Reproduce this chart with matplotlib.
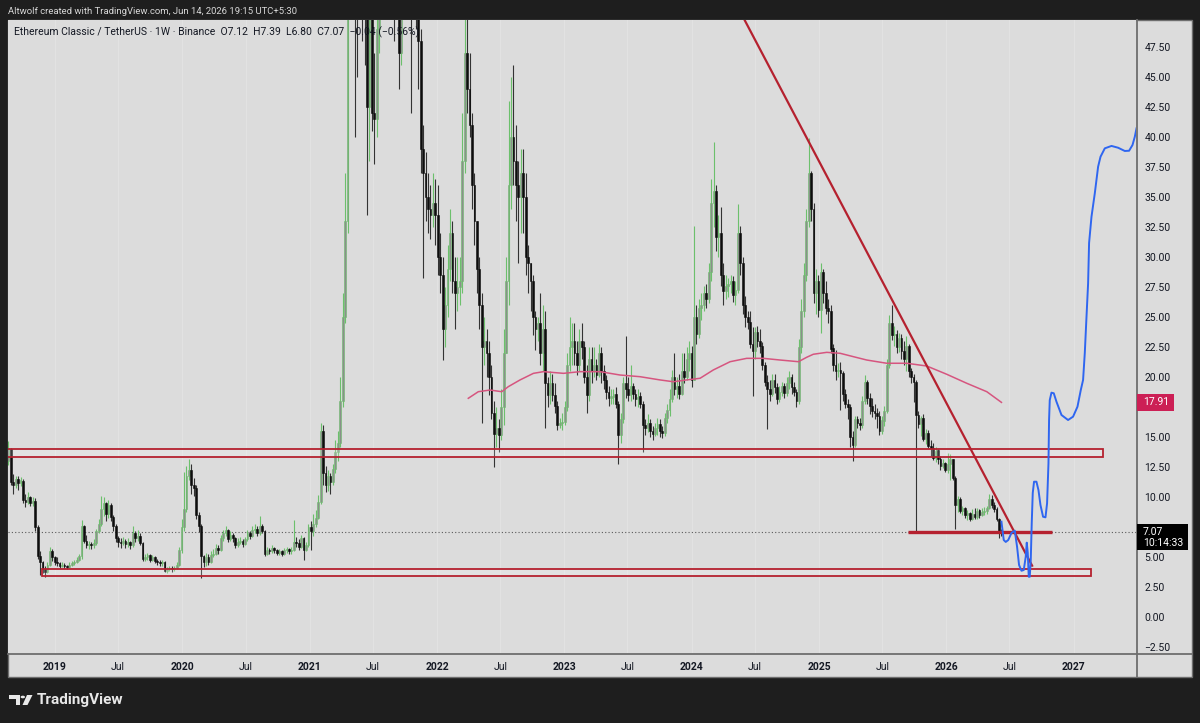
import numpy as np
import pandas as pd
import matplotlib
matplotlib.use('Agg')
import matplotlib.pyplot as plt
import matplotlib.dates as mdates
import matplotlib.transforms as mtransforms
from matplotlib.patches import Rectangle, Polygon, Circle
from matplotlib.lines import Line2D
from matplotlib.ticker import FuncFormatter

plt.rcParams['font.family'] = ['Roboto', 'DejaVu Sans']

# weekly ETC/USDT candles (open = previous close)
first_open = 13.0
first_week = '2018-08-20'

close_2018 = [14.0, 11.3, 11.0, 11.5, 11.2, 11.4, 9.8, 9.6, 10.0, 9.5, 9.7, 7.5, 5.1, 4.6, 4.0, 3.8, 4.4, 5.5, 5.0, 4.6]
high_2018 = [14.7, 14.1, 11.9, 11.8, 11.8, 11.7, 11.5, 10.3, 10.4, 10.1, 10.0, 9.9, 7.7, 5.5, 4.7, 4.3, 4.6, 5.9, 5.7, 5.1]
low_2018 = [12.7, 11.0, 10.3, 10.8, 10.6, 10.9, 9.5, 9.2, 9.4, 9.3, 9.3, 7.2, 4.9, 3.5, 3.7, 3.4, 3.7, 4.3, 4.7, 4.4]

close_2019 = [4.5, 4.3, 4.4, 4.3, 4.2, 4.4, 4.5, 4.6, 4.8, 5.1,
              7.6, 6.4, 6.0, 6.1, 6.0, 6.2, 7.2, 7.8, 9.0, 9.5,
              8.6, 9.4, 8.4, 7.6, 6.6, 6.3, 6.2, 6.4, 6.1, 6.3,
              6.0, 7.0, 6.6, 6.8, 6.2, 4.9, 5.0, 5.2, 4.8, 5.0,
              4.7, 4.6, 4.5, 4.6, 3.9, 4.0, 4.1, 4.0, 4.1, 4.4,
              5.6, 7.5]
high_2019 = [5.0, 4.6, 4.6, 4.5, 4.4, 4.6, 4.7, 4.8, 5.0, 5.3,
             8.1, 7.7, 6.9, 6.4, 6.3, 6.5, 7.4, 8.2, 10.1, 10.0,
             9.6, 9.8, 9.5, 8.5, 7.8, 6.8, 6.6, 6.7, 6.5, 6.6,
             6.4, 7.6, 7.2, 7.3, 7.0, 6.3, 5.3, 5.4, 5.3, 5.2,
             5.1, 4.9, 4.8, 4.8, 4.7, 4.2, 4.3, 4.3, 4.3, 4.6,
             5.9, 8.2]
low_2019 = [4.3, 4.1, 4.2, 4.1, 4.0, 4.1, 4.3, 4.4, 4.5, 4.7,
            4.9, 6.2, 5.8, 5.7, 5.7, 5.8, 6.0, 7.0, 7.6, 8.4,
            8.0, 8.3, 8.0, 7.2, 6.3, 5.9, 5.8, 6.0, 5.8, 5.9,
            5.7, 5.9, 6.3, 6.4, 6.0, 4.7, 4.7, 4.8, 4.6, 4.7,
            4.5, 4.4, 4.3, 4.3, 3.8, 3.7, 3.9, 3.8, 3.9, 4.0,
            4.3, 5.4]

close_2020 = [9.0, 11.8, 12.3, 11.0, 10.8, 8.5, 7.6, 5.1, 4.6, 5.0,
              4.6, 5.2, 5.3, 5.8, 5.6, 6.6, 7.0, 7.3, 6.5, 6.9,
              6.6, 6.0, 6.3, 6.4, 6.1, 6.5, 7.0, 6.8, 7.3, 7.4,
              7.0, 7.6, 7.2, 5.3, 5.6, 5.5, 5.8, 5.6, 5.4, 5.5,
              5.3, 5.6, 5.7, 5.5, 5.6, 6.3, 6.2, 5.9, 6.6, 5.6,
              6.0, 7.5]
high_2020 = [12.1, 12.6, 13.2, 12.8, 11.6, 11.0, 8.8, 7.8, 5.2, 5.4,
             5.3, 5.5, 5.7, 6.1, 6.0, 6.9, 7.3, 7.6, 7.4, 7.2,
             7.0, 6.7, 6.6, 6.7, 6.5, 6.7, 7.3, 7.2, 7.6, 7.8,
             7.6, 8.4, 7.8, 7.3, 5.9, 5.8, 6.0, 5.9, 5.7, 5.7,
             5.6, 5.8, 5.9, 5.8, 5.9, 8.1, 6.7, 6.5, 6.9, 6.7,
             6.3, 7.8]
low_2020 = [7.2, 8.8, 11.4, 10.3, 10.1, 8.2, 7.1, 3.3, 4.2, 4.3,
            4.4, 4.5, 5.0, 5.2, 5.3, 5.5, 6.4, 6.8, 6.3, 6.4,
            6.3, 5.8, 5.9, 6.1, 5.9, 6.0, 6.4, 6.5, 6.7, 7.0,
            6.8, 6.9, 7.0, 5.1, 5.2, 5.3, 5.4, 5.4, 5.2, 5.2,
            5.1, 5.2, 5.4, 5.3, 5.3, 5.5, 5.9, 5.6, 5.8, 4.8,
            5.5, 5.9]

close_2021 = [7.2, 7.8, 8.3, 9.6, 15.5, 12.0, 11.0, 11.8, 11.3, 12.4,
              13.8, 14.5, 18.0, 25.0, 33.0, 68.0, 100.0, 85.0, 62.0, 58.0,
              60.0, 56.0, 52.0, 42.5, 51.0, 42.0, 41.5, 49.0, 56.0, 62.0,
              72.0, 65.0, 73.0, 70.0, 60.0, 56.0, 47.0, 52.0, 56.0, 57.0,
              55.0, 50.0, 55.0, 52.0, 48.0, 39.0, 37.0, 35.0, 34.0, 33.5,
              34.5, 33.5]
high_2021 = [8.0, 8.6, 8.9, 10.2, 16.2, 16.0, 12.6, 12.3, 12.0, 12.8,
             14.8, 15.5, 20.0, 27.0, 37.0, 72.0, 140.0, 175.0, 95.0, 70.0,
             68.0, 62.0, 58.0, 55.0, 55.0, 55.0, 47.0, 51.0, 58.0, 65.0,
             78.0, 80.0, 75.0, 80.0, 75.0, 62.0, 60.0, 55.0, 60.0, 62.0,
             60.0, 58.0, 60.0, 58.0, 54.0, 49.0, 41.0, 38.8, 37.0, 36.0,
             37.0, 36.5]
low_2021 = [5.6, 6.8, 7.5, 8.2, 9.4, 11.0, 10.4, 10.5, 10.3, 11.0,
            12.0, 13.0, 14.2, 17.5, 24.5, 32.0, 64.0, 70.0, 40.0, 45.0,
            52.0, 48.0, 46.0, 33.5, 38.0, 40.5, 37.8, 40.0, 47.0, 54.0,
            56.0, 60.0, 62.0, 65.0, 48.0, 52.0, 44.0, 46.0, 52.0, 53.0,
            52.0, 42.0, 50.0, 49.0, 44.0, 37.0, 28.3, 33.0, 32.0, 31.5,
            32.5, 31.0]

close_2022 = [30.0, 28.5, 24.0, 26.0, 29.0, 32.0, 28.0, 27.0, 27.5, 28.0,
              38.0, 47.0, 44.0, 41.0, 36.0, 33.0, 29.0, 26.0, 22.5, 23.0,
              22.0, 20.0, 17.0, 15.3, 15.8, 15.2, 17.5, 22.0, 28.0, 36.0,
              40.0, 38.0, 36.0, 35.0, 37.0, 35.0, 30.0, 29.5, 28.0, 25.0,
              24.0, 24.5, 22.0, 24.0, 19.5, 18.5, 19.5, 18.5, 17.6, 16.0,
              16.2, 16.3]
high_2022 = [36.0, 32.0, 30.0, 27.5, 31.0, 34.0, 33.0, 30.0, 30.0, 30.0,
             42.0, 50.0, 52.0, 47.0, 42.0, 37.0, 33.0, 30.0, 27.0, 25.0,
             24.0, 23.0, 21.0, 18.0, 17.5, 16.5, 19.0, 24.0, 30.0, 43.0,
             45.0, 46.0, 41.0, 38.0, 39.0, 39.0, 37.0, 31.0, 29.5, 28.5,
             25.5, 25.0, 27.0, 26.0, 25.5, 20.0, 20.5, 20.3, 19.5, 18.0,
             16.6, 17.0]
low_2022 = [28.5, 27.0, 21.4, 22.5, 25.0, 28.0, 27.0, 24.0, 25.5, 26.0,
            27.0, 37.0, 42.0, 40.0, 34.0, 31.0, 27.0, 24.0, 16.2, 21.0,
            20.0, 18.5, 16.5, 12.5, 14.2, 13.8, 14.8, 16.0, 22.0, 26.0,
            34.0, 36.0, 33.0, 29.5, 32.0, 32.0, 28.5, 27.0, 25.5, 23.5,
            22.3, 23.0, 21.0, 20.5, 15.8, 17.5, 17.8, 18.0, 17.0, 15.6,
            15.8, 15.6]

close_2023 = [17.5, 21.0, 22.5, 23.0, 22.0, 21.0, 23.0, 22.5, 20.0, 18.5,
              21.5, 20.5, 21.0, 20.2, 22.0, 20.5, 19.8, 18.8, 18.3, 18.4,
              18.6, 17.8, 15.2, 16.5, 19.5, 19.0, 18.5, 19.3, 18.6, 18.2,
              18.4, 17.8, 16.0, 15.8, 16.2, 15.5, 15.3, 15.8, 16.1, 15.5,
              15.4, 16.6, 17.3, 18.2, 20.0, 19.0, 19.3, 18.6, 20.5, 20.0,
              21.5, 22.0]
high_2023 = [18.0, 22.0, 25.0, 24.5, 24.5, 23.0, 24.0, 24.5, 23.0, 21.0,
             22.5, 22.5, 22.5, 21.5, 22.8, 22.5, 21.0, 20.2, 19.3, 19.0,
             19.0, 19.2, 18.0, 17.0, 20.0, 23.4, 20.0, 21.0, 19.5, 19.0,
             19.0, 18.8, 18.0, 16.5, 16.9, 16.5, 15.9, 16.2, 16.6, 16.5,
             15.9, 17.0, 17.8, 19.0, 20.6, 22.0, 20.0, 20.3, 22.0, 22.0,
             22.5, 23.0]
low_2023 = [16.0, 17.2, 20.5, 21.0, 21.0, 20.2, 20.5, 21.5, 19.5, 17.0,
            18.0, 19.5, 20.0, 19.8, 20.0, 19.5, 19.0, 18.2, 17.6, 17.8,
            17.8, 17.4, 12.8, 14.5, 16.2, 18.3, 18.0, 18.0, 18.2, 17.6,
            17.5, 17.4, 13.8, 15.2, 15.4, 15.0, 14.8, 15.1, 15.2, 15.0,
            14.9, 15.1, 16.2, 16.8, 17.9, 18.5, 18.3, 18.2, 18.5, 19.5,
            19.8, 20.5]

close_2024 = [19.8, 25.0, 23.6, 25.8, 26.0, 27.0, 26.5, 28.8, 34.5, 35.5,
              31.7, 32.0, 28.5, 27.2, 27.6, 27.8, 28.0, 26.9, 27.3, 32.0,
              29.5, 26.0, 25.0, 24.6, 22.8, 22.2, 23.8, 23.0, 22.6, 21.0,
              19.6, 19.0, 18.6, 19.8, 19.2, 18.2, 18.8, 19.3, 18.7, 19.5,
              20.0, 19.2, 18.8, 18.0, 22.5, 25.5, 28.5, 33.0, 37.0, 34.0,
              27.0, 28.0, 25.6]
high_2024 = [22.6, 32.6, 26.0, 26.5, 27.0, 27.6, 27.8, 29.5, 36.5, 39.6,
             36.0, 33.5, 34.2, 29.5, 28.5, 28.3, 28.5, 28.4, 28.0, 34.4,
             32.6, 30.0, 26.8, 25.5, 25.5, 24.2, 24.2, 24.3, 24.0, 22.9,
             21.3, 20.2, 19.8, 20.3, 20.3, 19.5, 19.3, 19.6, 19.5, 20.0,
             20.5, 20.3, 19.6, 19.0, 23.2, 26.5, 29.5, 34.0, 39.9, 37.2,
             34.5, 29.0, 28.5]
low_2024 = [19.2, 19.8, 22.8, 23.3, 24.8, 25.5, 25.8, 26.2, 28.0, 32.5,
            30.5, 30.0, 27.6, 26.0, 26.5, 26.7, 27.0, 26.3, 26.0, 27.0,
            28.5, 25.3, 24.2, 24.0, 22.4, 18.4, 21.5, 22.5, 22.0, 20.6,
            19.3, 15.7, 18.0, 18.4, 18.7, 17.8, 17.9, 18.4, 18.3, 18.4,
            19.0, 18.6, 18.4, 17.5, 17.8, 22.0, 25.0, 28.0, 32.5, 33.0,
            26.2, 25.3, 25.0]

close_2025 = [28.8, 27.0, 25.8, 25.5, 22.4, 21.0, 20.5, 20.6, 20.4, 18.6,
              17.8, 17.5, 15.0, 14.4, 16.5, 16.2, 16.0, 18.0, 19.6, 18.3,
              17.6, 17.2, 17.0, 16.8, 15.5, 16.4, 17.2, 21.0, 24.5, 23.5,
              23.6, 22.5, 23.3, 22.2, 21.5, 22.6, 20.5, 20.0, 19.6, 16.9,
              16.1, 16.6, 14.9, 15.4, 14.3, 14.1, 13.3, 13.9, 13.2, 12.6,
              12.9, 12.3]
high_2025 = [29.5, 29.0, 28.0, 26.5, 26.0, 22.8, 22.3, 21.2, 21.3, 20.5,
             19.0, 18.2, 17.8, 15.5, 16.8, 16.8, 16.6, 18.4, 20.2, 19.8,
             18.7, 18.3, 17.8, 17.4, 17.2, 16.8, 17.6, 21.5, 25.2, 26.0,
             24.3, 23.9, 23.7, 23.6, 23.0, 23.4, 22.8, 20.8, 20.3, 19.8,
             17.2, 16.8, 16.9, 15.7, 15.6, 14.8, 14.5, 14.2, 14.0, 13.4,
             13.2, 12.9]
low_2025 = [23.7, 26.2, 25.3, 24.5, 22.0, 20.5, 19.8, 20.0, 17.3, 18.0,
            17.4, 16.5, 14.2, 13.0, 14.2, 15.8, 15.6, 15.8, 17.8, 17.8,
            16.9, 16.7, 16.5, 15.8, 15.2, 15.3, 15.9, 17.0, 20.8, 23.1,
            22.6, 22.0, 22.1, 21.5, 21.0, 20.5, 20.0, 19.5, 17.9, 7.2,
            15.8, 15.1, 14.7, 14.4, 14.1, 13.4, 13.1, 12.9, 12.8, 12.3,
            12.4, 12.1]

close_2026 = [12.8, 13.2, 11.6, 9.4, 9.9, 8.9, 9.1, 8.5, 8.7, 8.2,
              8.6, 8.4, 8.9, 8.5, 8.8, 8.9, 9.1, 9.9, 9.4, 9.0,
              8.2, 7.12, 7.07]
high_2026 = [13.7, 13.6, 13.2, 11.8, 10.1, 10.0, 9.3, 9.2, 8.9, 8.8,
             9.0, 9.1, 9.1, 9.0, 9.1, 9.2, 9.3, 10.3, 10.2, 9.6,
             9.2, 8.3, 7.39]
low_2026 = [12.0, 11.4, 11.4, 7.4, 8.8, 8.7, 8.5, 8.3, 8.1, 8.0,
            8.1, 8.2, 8.2, 8.3, 8.4, 8.5, 8.6, 9.0, 9.1, 8.8,
            8.0, 6.6, 6.80]

# 200-week moving average (week number, value)
ma_week = [188.5, 192.6, 197.4, 202.2, 204.9, 209.7, 215.2, 219.3, 227.5, 234.3,
           242.5, 250.7, 258.9, 267.1, 272.5, 278.0, 283.5, 288.9, 295.8, 302.6,
           309.4, 316.3, 323.8, 327.2, 329.9, 335.4, 340.9, 346.3, 351.8, 360.0,
           368.2, 376.4, 384.6, 392.8, 401.0, 407.0]
ma_value = [18.25, 18.8, 18.94, 18.8, 19.22, 19.78, 20.33, 20.47, 20.33, 20.47,
            20.47, 20.19, 20.05, 19.78, 19.63, 19.78, 19.92, 20.61, 21.3, 21.58,
            21.58, 21.44, 21.3, 21.67, 21.92, 22.08, 22.0, 21.72, 21.44, 21.17,
            21.17, 20.94, 20.25, 19.5, 18.8, 17.91]

# blue hand drawn forecast (days after last candle, price)
blue_day = [0, 6.6, 12.3, 19.5, 28.7, 38.2, 44.8, 50.5, 57.4, 64, 69.7, 72.6, 75.5, 78.3,
            81.2, 84.1, 86.9, 89.8, 93.5, 100.4, 106.2, 111.9, 119.4, 126.3, 130.9, 134.9,
            136.6, 138.6, 143.5, 150.1, 157.8, 172.2, 191.1, 205.5, 218.1, 227.6, 234.2,
            239.1, 244, 248.6, 251.4, 258.3, 267.8, 277.3, 284.2, 296.5, 315.7, 334.7,
            353.9, 366.2, 376, 382.6, 387.5]
blue_price = [7.97, 6.44, 6.28, 6.44, 7.03, 7.22, 5.88, 4.36, 3.88, 3.94, 5.05, 6.22, 5.36,
              3.38, 3.38, 4.78, 7.86, 10.36, 11.3, 11.3, 10.6, 9.36, 8.38, 8.33, 9.5, 12.83,
              16.44, 18.1, 18.72, 18.67, 17.97, 16.86, 16.44, 16.72, 17.55, 18.94, 19.78,
              22.03, 25.05, 27.83, 31.19, 33.38, 35.33, 37.55, 38.38, 39.08, 39.28, 39.13,
              38.86, 38.88, 39.36, 40.05, 40.75]

# drawings
trend_dates = ['2024-05-19', '2026-09-04']
trend_prices = [50.5, 4.3]
upper_zone = ('2018-07-01', '2027-03-26', 13.35, 14.05)
lower_zone = ('2018-11-24', '2027-02-20', 3.45, 4.02)
red_level = ('2025-09-13', '2026-10-31', 7.1)

last_price = 7.07
ma_last = 17.91
countdown = '10:14:33'
header = 'Altwolf created with TradingView.com, Jun 14, 2026 19:15 UTC+5:30'
legend = 'Ethereum Classic / TetherUS · 1W · Binance  O7.12  H7.39  L6.80  C7.07  \u22120.04 (\u22120.56%)'

closes = close_2018 + close_2019 + close_2020 + close_2021 + close_2022 + close_2023 + close_2024 + close_2025 + close_2026
highs = high_2018 + high_2019 + high_2020 + high_2021 + high_2022 + high_2023 + high_2024 + high_2025 + high_2026
lows = low_2018 + low_2019 + low_2020 + low_2021 + low_2022 + low_2023 + low_2024 + low_2025 + low_2026
opens = [first_open] + closes[:-1]

weeks = pd.date_range(first_week, periods=len(closes), freq='7D')
x = mdates.date2num(weeks)
o = np.array(opens)
c = np.array(closes)
top = np.maximum(np.array(highs), np.maximum(o, c))
bot = np.minimum(np.array(lows), np.minimum(o, c))
up = c >= o

W, H = 1200, 723
BG = '#dcdcdc'
DARK = '#1e1e1e'
TXT = '#131722'

def fx(px):
    return px / W

def fy(py):
    return 1 - py / H

fig = plt.figure(figsize=(12, 7.23), dpi=100, facecolor=DARK)

# light panel behind pane + axes strips
fig.add_artist(Rectangle((fx(8), fy(677)), fx(1192) - fx(8), fy(20) - fy(677),
                         transform=fig.transFigure, facecolor=BG, edgecolor='#6e6e6e',
                         lw=1.0, zorder=-5))

ax = fig.add_axes([fx(8), fy(653), fx(1136) - fx(8), fy(20) - fy(653)])
ax.set_facecolor(BG)
for s in ax.spines.values():
    s.set_visible(False)

ax.set_xlim(mdates.datestr2num('2018-08-19'), mdates.datestr2num('2027-06-29'))
ax.set_ylim(-2.975, 49.775)

# time ticks
tick_dates = []
tick_labels = []
for yr in range(2019, 2028):
    tick_dates.append(pd.Timestamp(f'{yr}-01-01'))
    tick_labels.append(str(yr))
    if yr < 2027:
        tick_dates.append(pd.Timestamp(f'{yr}-07-01'))
        tick_labels.append('Jul')
tick_x = mdates.date2num(tick_dates)
for tx in tick_x:
    ax.axvline(tx, color='#e2e2e2', lw=0.8, zorder=0)
ax.set_xticks(tick_x)
ax.set_xticklabels(tick_labels)
ax.tick_params(axis='x', length=0, pad=6.5, labelsize=7.5, labelcolor=TXT)
for lab in ax.get_xticklabels():
    if lab.get_text() != 'Jul':
        lab.set_fontweight('bold')

# price ticks (the ones under the two price boxes are hidden, as on screen)
hidden_ticks = (7.5, 17.5)

def price_fmt(v, p):
    if any(abs(v - h) < 1e-6 for h in hidden_ticks):
        return ''
    return f'{v:.2f}'.replace('-', '\u2212')

ax.yaxis.tick_right()
ax.set_yticks(np.arange(-2.5, 49.0, 2.5))
ax.yaxis.set_major_formatter(FuncFormatter(price_fmt))
ax.tick_params(axis='y', length=0, pad=6, labelsize=7.5, labelcolor=TXT)

# candles
ax.vlines(x[up], bot[up], top[up], color='#6cc06c', lw=0.8, zorder=2)
ax.vlines(x[~up], bot[~up], top[~up], color='#333333', lw=0.8, zorder=2)
body_lo = np.minimum(o, c)
body_h = np.maximum(np.abs(c - o), 0.08)
ax.bar(x[up], body_h[up], bottom=body_lo[up], width=5.0, color='#8a8f8a',
       edgecolor='#6cc06c', linewidth=0.4, zorder=3)
ax.bar(x[~up], body_h[~up], bottom=body_lo[~up], width=5.0, color='#0d0d0d',
       edgecolor='#0d0d0d', linewidth=0.4, zorder=3)

# moving average
ma_x = mdates.date2num(weeks[0] + pd.to_timedelta(np.array(ma_week) * 7, unit='D'))
ax.plot(ma_x, ma_value, color='#d6557f', lw=1.1, zorder=4)

# zones and lines
red = '#b5212f'
for z in (upper_zone, lower_zone):
    x0, x1 = mdates.datestr2num(z[0]), mdates.datestr2num(z[1])
    ax.add_patch(Rectangle((x0, z[2]), x1 - x0, z[3] - z[2], facecolor=(1, 1, 1, 0.18),
                           edgecolor=red, lw=1.3, zorder=5))
ax.plot(mdates.datestr2num([red_level[0], red_level[1]]), [red_level[2]] * 2,
        color=red, lw=2.4, solid_capstyle='butt', zorder=5)
ax.plot(mdates.datestr2num(trend_dates), trend_prices, color=red, lw=1.6, zorder=5)

ax.axhline(last_price, color='#5a5a5a', lw=0.8, ls=(0, (1, 2)), zorder=1)

blue_x = mdates.date2num(weeks[-1] + pd.to_timedelta(np.array(blue_day), unit='D'))
ax.plot(blue_x, blue_price, color='#2f66f0', lw=1.4, solid_joinstyle='round', zorder=6)

# separators
fig.add_artist(Line2D([fx(1136.5)] * 2, [fy(20), fy(677)], transform=fig.transFigure,
                      color='#6e6e6e', lw=1.3))
fig.add_artist(Line2D([fx(8), fx(1192)], [fy(653.5)] * 2, transform=fig.transFigure,
                      color='#6e6e6e', lw=1.3))

# price labels on the axis
blend = mtransforms.blended_transform_factory(fig.transFigure, ax.transData)
fig.add_artist(Rectangle((fx(1137), ma_last - 0.72), fx(1174) - fx(1137), 1.44,
                         transform=blend, facecolor='#cc1f55', edgecolor='none', zorder=3))
fig.text(fx(1143), ma_last, f'{ma_last:.2f}', transform=blend, color='white',
         fontsize=7.5, va='center', ha='left', zorder=4)
fig.add_artist(Rectangle((fx(1137), 5.6), fx(1188) - fx(1137), 2.15,
                         transform=blend, facecolor='#000000', edgecolor='none', zorder=3))
fig.text(fx(1143), last_price, f'{last_price:.2f}', transform=blend, color='white',
         fontsize=7.5, va='center', ha='left', zorder=4)
fig.text(fx(1143), 6.15, countdown, transform=blend, color='white',
         fontsize=7.5, va='center', ha='left', zorder=4)

# header and legend
fig.text(fx(8), fy(11), header, color='#d8d8d8', fontsize=6.8, va='center', ha='left')
fig.text(fx(14), fy(32), legend, color=TXT, fontsize=7.5, va='center', ha='left')

# TradingView logo
logo = '#e8e8e8'
fig.add_artist(Polygon([(fx(9), fy(695)), (fx(20), fy(695)), (fx(20), fy(705)),
                        (fx(15.5), fy(705)), (fx(15.5), fy(699)), (fx(9), fy(699))],
                       closed=True, transform=fig.transFigure, facecolor=logo, edgecolor='none'))
fig.add_artist(Circle((fx(22.8), fy(697)), 2.2 / W, transform=fig.transFigure,
                      facecolor=logo, edgecolor='none'))
fig.add_artist(Polygon([(fx(27), fy(695)), (fx(32.5), fy(695)), (fx(27.5), fy(705)),
                        (fx(22.5), fy(705))],
                       closed=True, transform=fig.transFigure, facecolor=logo, edgecolor='none'))
fig.text(fx(37), fy(700), 'TradingView', color=logo, fontsize=11, fontweight='bold',
         va='center', ha='left')

fig.savefig('out.png', dpi=100, facecolor=DARK)
